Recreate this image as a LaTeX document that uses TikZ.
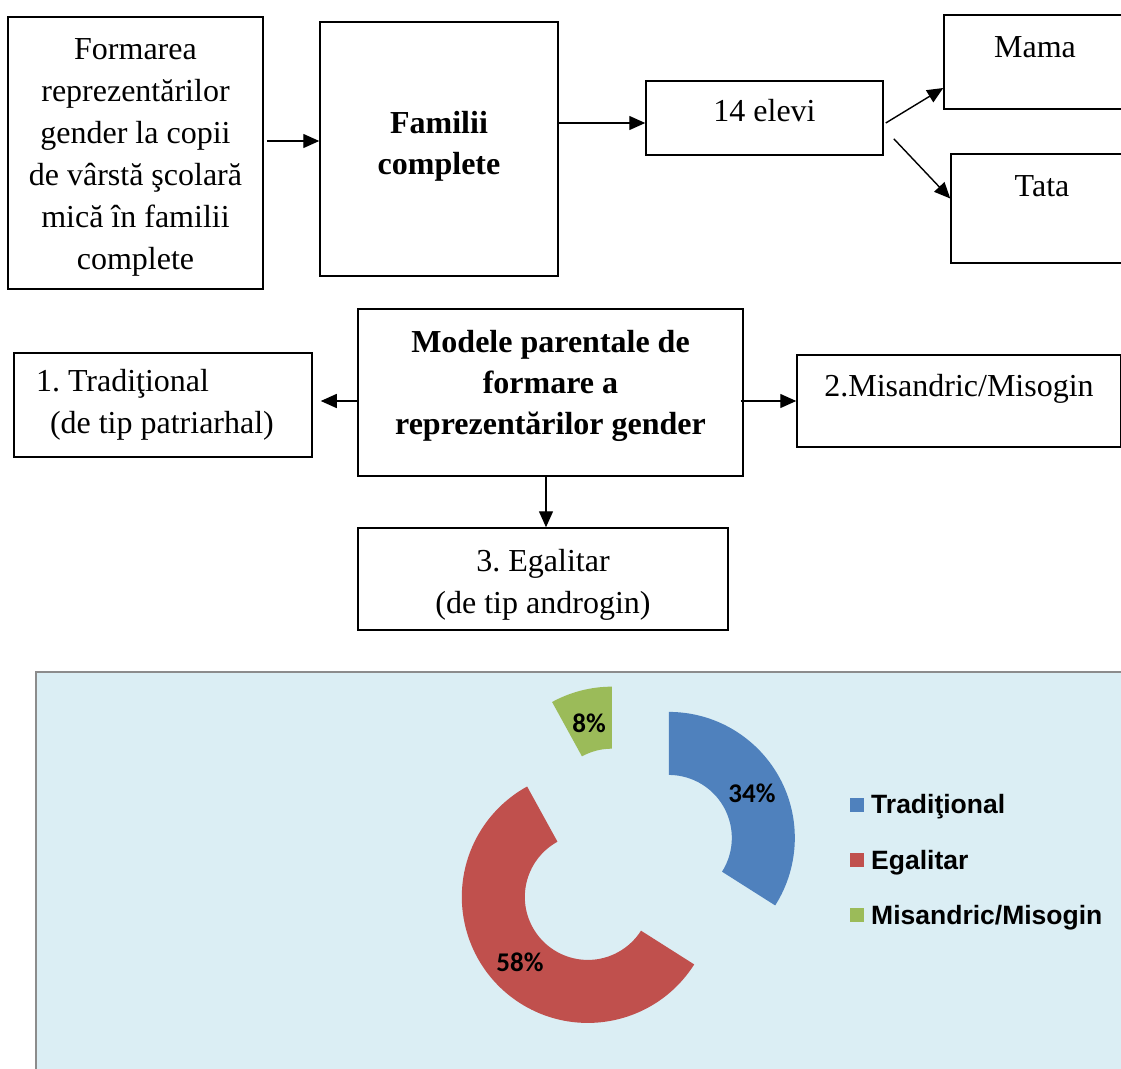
\documentclass[tikz,border=0pt]{standalone}
\usepackage{fontspec}
\setmainfont{Liberation Serif}
\newfontfamily\legendfont{Liberation Sans}
\newfontfamily\pctfont{Carlito}
\usepackage{xcolor}
\usetikzlibrary{arrows.meta}
\definecolor{chartbg}{HTML}{DBEEF4}
\definecolor{chartborder}{HTML}{8C8C8C}
\definecolor{tradblue}{HTML}{4F81BD}
\definecolor{egalred}{HTML}{C0504D}
\definecolor{misgreen}{HTML}{9BBB59}
\tikzset{>={Triangle[length=16pt,width=14pt]}}
\tikzset{main box/.style={draw,line width=1.5pt,inner sep=0pt,align=center,font=\fontsize{32}{42}\selectfont\frenchspacing},
         bold box/.style={main box,font=\fontsize{32}{41}\selectfont\bfseries},
         link/.style={line width=1.4pt,->},
         legend text/.style={font=\legendfont\fontsize{26.5}{30}\selectfont\bfseries,anchor=base west,inner sep=0pt},
         pct/.style={font=\pctfont\fontsize{27}{30}\selectfont\bfseries,anchor=base,inner sep=0pt},
            }

\begin{document}
\begin{tikzpicture}[x=1pt,y=-1pt]
    \useasboundingbox (0,0) rectangle (1121,1068);
    \clip (0,0) rectangle (1121,1068);

    \node[main box,minimum width=255pt,minimum height=272pt] (form) at (135.5,153)
        {\rule{0pt}{29pt}Formarea\\reprezentărilor\\gender la copii\\de vârstă şcolară\\mică în familii\\complete};
    \node[bold box,minimum width=238pt,minimum height=254pt] (fam) at (439,149)
        {Familii\\complete\rule[-13pt]{0pt}{13pt}};
    \node[main box,minimum width=237pt,minimum height=74pt,text depth=15pt] (elevi) at (764.5,118) {14 elevi};
    \node[main box,minimum width=182pt,minimum height=94pt,text depth=29pt] (mama) at (1035,62) {Mama};
    \node[main box,minimum width=182pt,minimum height=109pt,text depth=44pt] (tata) at (1042,208.5) {Tata};

    \node[bold box,minimum width=385pt,minimum height=167pt] (modele) at (550.5,392.5)
        {Modele parentale de\\formare a\\reprezentărilor gender\rule[-21pt]{0pt}{21pt}};
    \node[main box,minimum width=298pt,minimum height=104pt,text width=254pt,align=flush left] (trad) at (163,405)
        {1. Tradiţional\\\hspace*{14pt}(de tip patriarhal)};
    \node[main box,minimum width=324pt,minimum height=92pt,text depth=32pt] (misan) at (959,401) {2.Misandric/Misogin};
    \node[main box,minimum width=370pt,minimum height=102pt] (egal) at (543,579)
        {\rule{0pt}{34pt}3. Egalitar\\(de tip androgin)};

    \draw[link] ([xshift=3pt,yshift=12pt]form.east) -- ([yshift=8pt]fam.west);
    \draw[link] ([yshift=26pt]fam.east) -- ([yshift=-5pt]elevi.west);
    \draw[link] ([xshift=2pt,yshift=-5pt]elevi.east) -- ([yshift=-26pt]mama.west);
    \draw[link] ([xshift=10pt,yshift=17pt]elevi.south east) -- ([yshift=10pt]tata.west);
    \draw[link] ([yshift=-8.5pt]modele.west) -- ([xshift=8pt,yshift=4pt]trad.east);
    \draw[link] ([xshift=-3pt,yshift=-8.5pt]modele.east) -- (misan.west);
    \draw[link] ([xshift=-4.5pt]modele.south) -- ([xshift=3pt]egal.north);

    % chart
    \draw[draw=chartborder,fill=chartbg,line width=1.5pt] (36,672) rectangle (1140,1085);
    \begin{scope}[shift={(625,862)},y=1pt]
        \fill[tradblue,shift={(28.8:50)}] (90:126) arc[start angle=90,end angle=-32.4,radius=126]
            -- (-32.4:63) arc[start angle=-32.4,end angle=90,radius=63] -- cycle;
        \fill[egalred,shift={(-136.8:51)}] (-32.4:126) arc[start angle=-32.4,end angle=-241.2,radius=126]
            -- (-241.2:63) arc[start angle=-241.2,end angle=-32.4,radius=63] -- cycle;
        \fill[misgreen,shift={(104.4:53)}] (118.8:124) arc[start angle=118.8,end angle=90,radius=124]
            -- (90:62) arc[start angle=90,end angle=118.8,radius=62] -- cycle;
    \end{scope}
    \node[pct] (p34) at (752,802) {34\%};
    \node[pct] (p8) at (589,732) {8\%};
    \node[pct] (p58) at (520,971) {58\%};

    \fill[tradblue] (850,798) rectangle (864,812);
    \node[legend text] (ltrad) at (871,813) {Tradiţional};
    \fill[egalred] (850,853) rectangle (864,867);
    \node[legend text] (legal) at (871,869) {Egalitar};
    \fill[misgreen] (850,908) rectangle (864,922);
    \node[legend text] (lmis) at (871,924) {Misandric/Misogin};

\end{tikzpicture}
\end{document}
